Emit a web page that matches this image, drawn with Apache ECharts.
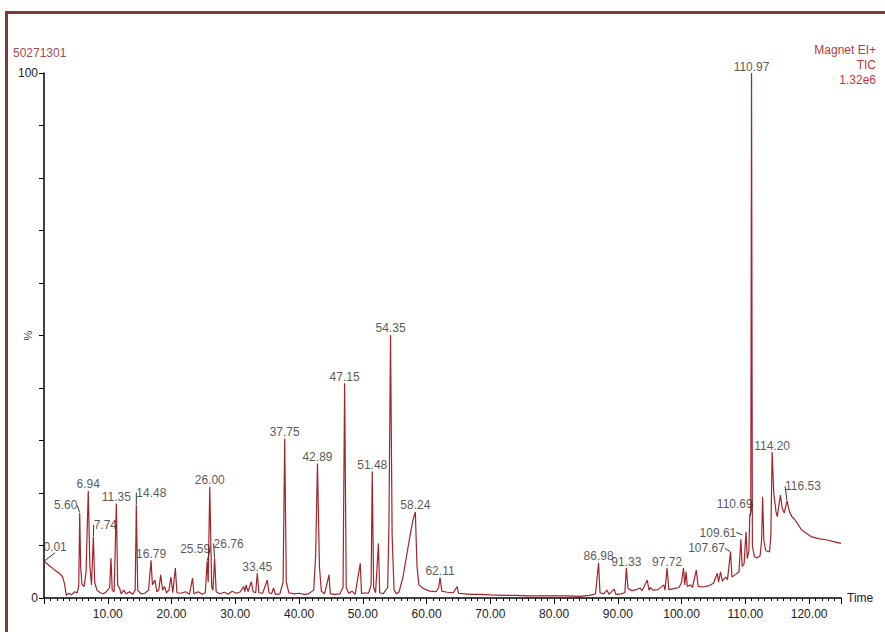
<!DOCTYPE html>
<html>
<head>
<meta charset="utf-8">
<script src="https://cdn.jsdelivr.net/npm/echarts@6/dist/echarts.min.js"></script>
<style>
  html, body { margin: 0; padding: 0; background: #fff; }
  #chart { width: 885px; height: 632px; }
</style>
</head>
<body>
<div id="chart"></div>
<script>
// TIC trace: [time (min), relative intensity (%)]
const trace = [
  [0.01, 7.0], [0.8, 6.2], [1.6, 5.4], [2.3, 4.8], [2.9, 4.1], [3.2, 2.8], [3.5, 0.5], [3.9, 0.9], [4.3, 0.6],
  [4.8, 1.2], [5.2, 1.0], [5.45, 2.2], [5.6, 16.2], [5.75, 6.0], [5.95, 2.6], [6.3, 2.2], [6.6, 5.0],
  [6.94, 20.4], [7.2, 6.0], [7.45, 2.5], [7.74, 11.7], [7.95, 3.0], [8.3, 1.5], [8.8, 1.0], [9.3, 0.8],
  [9.8, 1.2], [10.3, 2.0], [10.5, 7.6], [10.7, 1.5], [11.0, 1.2], [11.35, 18.0], [11.55, 2.5], [11.85, 1.9],
  [12.1, 0.8], [12.5, 1.5], [12.9, 0.8], [13.4, 1.2], [13.9, 0.7], [14.3, 1.5], [14.48, 17.7], [14.7, 1.5],
  [15.2, 0.8], [15.8, 0.9], [16.4, 1.5], [16.79, 7.2], [17.0, 2.5], [17.4, 3.4], [17.7, 1.2], [18.0, 1.5],
  [18.3, 4.4], [18.6, 1.5], [18.9, 2.2], [19.2, 1.0], [19.6, 1.5], [19.9, 4.0], [20.2, 1.0], [20.6, 5.7],
  [20.85, 1.0], [21.5, 0.9], [22.2, 1.2], [22.8, 0.7], [23.3, 3.8], [23.5, 0.8], [24.2, 1.2], [24.8, 0.7],
  [25.3, 1.0], [25.59, 7.0], [25.75, 3.0], [26.0, 21.2], [26.3, 2.0], [26.5, 1.5], [26.76, 7.6], [27.0, 1.2],
  [27.6, 0.8], [28.3, 1.1], [28.9, 0.7], [29.5, 1.3], [30.2, 0.9], [30.8, 1.2], [31.3, 2.2], [31.5, 1.2],
  [31.7, 2.5], [32.0, 1.2], [32.5, 3.1], [32.8, 1.2], [33.2, 1.0], [33.45, 4.7], [33.7, 1.0], [34.3, 0.9],
  [35.0, 3.4], [35.3, 1.0], [35.7, 0.8], [36.0, 1.9], [36.3, 0.7], [37.0, 0.8], [37.5, 3.0], [37.75, 30.4],
  [38.0, 3.0], [38.4, 1.0], [39.2, 0.8], [40.0, 0.9], [40.8, 0.7], [41.5, 0.8], [42.3, 1.5], [42.6, 8.0],
  [42.89, 25.6], [43.2, 6.0], [43.5, 1.3], [44.0, 0.8], [44.7, 4.4], [44.9, 0.8], [45.6, 0.7], [46.4, 0.8],
  [46.9, 2.0], [47.15, 40.9], [47.4, 2.0], [47.8, 0.9], [48.3, 1.3], [48.8, 0.7], [49.6, 6.6], [49.8, 0.8],
  [50.3, 1.0], [50.9, 0.9], [51.3, 2.5], [51.48, 24.1], [51.7, 2.0], [52.0, 1.0], [52.45, 10.4], [52.65, 1.0],
  [53.2, 0.8], [53.9, 2.0], [54.1, 14.0], [54.35, 50.1], [54.6, 12.0], [54.9, 1.5], [55.3, 0.8], [55.7, 1.2],
  [56.3, 4.0], [57.0, 9.0], [57.5, 12.5], [57.9, 15.0], [58.24, 16.4], [58.5, 6.0], [58.8, 2.5], [59.5, 1.8],
  [60.5, 1.3], [61.5, 1.2], [61.9, 2.0], [62.11, 3.9], [62.4, 1.3], [63.2, 1.1], [64.2, 1.0], [64.8, 2.2],
  [65.0, 0.9], [66.0, 0.8], [67.0, 0.7], [68.5, 0.7], [70.0, 0.6], [72.0, 0.5], [74.0, 0.5], [76.0, 0.4],
  [78.0, 0.4], [80.0, 0.4], [82.0, 0.4], [84.0, 0.3], [85.5, 0.5], [86.5, 0.8], [86.98, 6.7], [87.2, 1.0],
  [87.8, 0.8], [88.3, 1.5], [88.6, 0.7], [89.4, 1.7], [89.7, 0.7], [90.5, 0.8], [91.1, 1.0], [91.33, 5.7],
  [91.6, 1.8], [92.2, 1.4], [92.9, 1.6], [93.5, 1.9], [93.8, 1.4], [94.6, 3.4], [94.9, 1.5], [95.1, 2.0],
  [95.5, 1.5], [96.3, 1.6], [97.2, 2.5], [97.4, 1.5], [97.72, 5.7], [98.0, 1.6], [98.8, 1.8], [99.6, 2.0],
  [100.0, 3.0], [100.3, 5.7], [100.5, 2.5], [100.7, 5.0], [100.9, 2.2], [101.4, 2.5], [101.7, 2.0], [102.3, 5.3],
  [102.6, 2.2], [103.3, 2.1], [104.2, 2.3], [105.0, 2.8], [105.6, 4.7], [105.8, 3.0], [106.1, 5.0], [106.4, 3.2],
  [106.9, 4.0], [107.2, 3.5], [107.67, 8.8], [107.9, 4.0], [108.5, 4.5], [109.0, 5.0], [109.3, 11.2], [109.5, 6.0],
  [109.8, 6.5], [110.1, 12.6], [110.3, 7.5], [110.55, 9.0], [110.69, 15.5], [110.85, 16.5], [110.97, 100],
  [111.1, 10.0], [111.4, 7.9], [111.8, 7.6], [112.3, 8.0], [112.55, 11.0], [112.7, 19.3], [112.9, 11.0],
  [113.2, 9.0], [113.8, 8.8], [114.0, 12.0], [114.2, 27.8], [114.45, 20.0], [114.8, 16.5], [115.0, 15.5],
  [115.5, 19.6], [115.8, 17.0], [116.1, 16.2], [116.53, 18.5], [116.9, 16.5], [117.3, 15.5], [117.7, 15.0],
  [118.0, 14.5], [118.8, 13.0], [119.5, 12.4], [120.3, 11.7], [121.5, 11.3], [123.0, 11.0], [124.0, 10.7],
  [125.0, 10.4]
];

// labelled retention times and the height the label sits on
const peakLabels = ['0.01', '5.60', '6.94', '7.74', '11.35', '14.48', '16.79', '25.59', '26.00', '26.76',
  '33.45', '37.75', '42.89', '47.15', '51.48', '54.35', '58.24', '62.11', '86.98', '91.33', '97.72',
  '107.67', '109.61', '110.69', '110.97', '114.20', '116.53'];
const peakHeights = [7.0, 16.2, 20.4, 11.7, 18.0, 17.7, 7.2, 7.0, 21.2, 7.6,
  4.7, 30.4, 25.6, 40.9, 24.1, 50.1, 16.4, 3.9, 6.7, 5.7, 5.7,
  8.8, 12.0, 15.5, 100, 27.8, 18.5];

// labels pushed off their peak, with a leader line
const labelShift = {
  '0.01': [11, -8], '5.60': [-14, -1], '7.74': [12, -5], '14.48': [15, -6],
  '25.59': [-12, -6], '26.76': [14, -8], '107.67': [-24, 3], '109.61': [-25, 4],
  '110.69': [-15, -6], '116.53': [16, -8]
};

const font = 'Liberation Sans, Arial, sans-serif';
const chart = echarts.init(document.getElementById('chart'), null, { renderer: 'svg' });

const option = {
  animation: false,
  backgroundColor: '#fff',
  textStyle: { fontFamily: font },
  title: {
    text: '50271301', left: 8, top: 42,
    textStyle: { fontSize: 12, fontWeight: 'normal', color: '#a34b55', fontFamily: font }
  },
  graphic: [
    {
      type: 'rect', silent: true, z: -1,
      shape: { x: 6.5, y: 12.5, width: 1000, height: 1000 },
      style: { fill: 'none', stroke: '#7d3b35', lineWidth: 3 }
    },
    {
      type: 'text', silent: true,
      x: 876, y: 42,
      style: {
        text: 'Magnet EI+\nTIC\n1.32e6', textAlign: 'right',
        fill: '#c0393b', font: '12px ' + font, lineHeight: 15
      }
    }
  ],
  grid: { left: 44, right: 44, top: 73, bottom: 34, containLabel: false, outerBoundsMode: 'none' },
  xAxis: [
    {
      type: 'value', min: 0, max: 125, interval: 10,
      name: 'Time', nameLocation: 'end', nameGap: 6,
      nameTextStyle: { color: '#222', fontSize: 12, fontFamily: font },
      axisLine: { show: true, lineStyle: { color: '#000', width: 1.5 } },
      axisTick: { show: true, length: 6, lineStyle: { color: '#000' } },
      axisLabel: {
        margin: 10, color: '#222', fontSize: 12, fontFamily: font,
        formatter: v => (v > 0 && v % 10 === 0 ? v.toFixed(2) : '')
      },
      splitLine: { show: false }
    },
    {
      type: 'value', min: 0, max: 125, interval: 1, position: 'bottom',
      axisLine: { show: false },
      axisTick: { show: true, length: 3, lineStyle: { color: '#000' } },
      axisLabel: { show: false },
      splitLine: { show: false }
    }
  ],
  yAxis: {
    type: 'value', min: 0, max: 100, interval: 10,
    name: '%', nameLocation: 'middle', nameRotate: 90, nameGap: 11, nameMoveOverlap: false,
    nameTextStyle: { color: '#333', fontSize: 11, fontFamily: font },
    axisLine: { show: true, lineStyle: { color: '#000', width: 1.5 } },
    axisTick: { show: true, length: 5, lineStyle: { color: '#000' } },
    axisLabel: {
      margin: 6, color: '#222', fontSize: 12, fontFamily: font,
      formatter: v => (v === 0 || v === 100 ? String(v) : '')
    },
    splitLine: { show: false }
  },
  series: [
    {
      type: 'line',
      data: trace,
      showSymbol: false,
      silent: true,
      lineStyle: { color: '#a3242a', width: 1.2 },
      z: 2
    },
    {
      type: 'scatter',
      silent: true,
      symbolSize: 1,
      itemStyle: { color: 'rgba(0,0,0,0)' },
      z: 3,
      data: peakLabels.map((t, i) => ({
        value: [parseFloat(t), peakHeights[i]],
        labelLine: { show: !!labelShift[t] }
      })),
      label: {
        show: true, position: 'top', distance: 0,
        color: '#2b2b2b', fontSize: 12, fontFamily: font,
        formatter: p => peakLabels[p.dataIndex]
      },
      labelLine: { show: false, lineStyle: { color: '#333', width: 1 } },
      labelLayout: p => {
        const s = labelShift[peakLabels[p.dataIndex]];
        return s ? { dx: s[0], dy: s[1] } : {};
      }
    }
  ]
};

chart.setOption(option);
</script>
</body>
</html>
